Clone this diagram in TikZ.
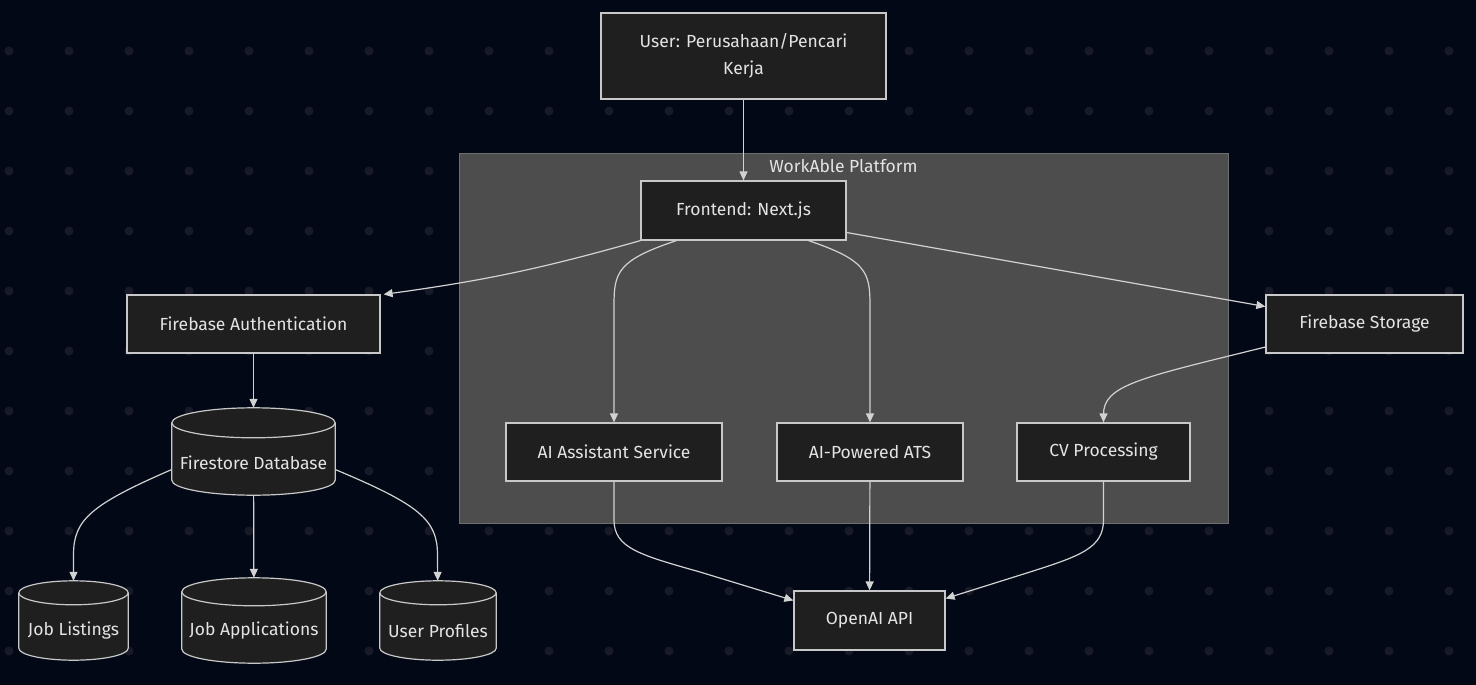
\documentclass[tikz,border=0pt]{standalone}
\usepackage{fontspec}
\setmainfont{Fira Sans}
\usetikzlibrary{arrows.meta,calc}
\definecolor{bgc}{RGB}{3,8,22}
\definecolor{dotc}{RGB}{24,27,39}
\definecolor{clfill}{RGB}{77,77,77}
\definecolor{clline}{RGB}{110,110,110}
\definecolor{nfill}{RGB}{31,31,31}
\definecolor{nline}{RGB}{200,200,200}
\definecolor{txt}{RGB}{228,228,228}
\definecolor{edgec}{RGB}{210,210,210}
\tikzset{
  box/.style={draw=nline, fill=nfill, line width=1.2pt, text=txt, font=\fontsize{17.5}{27}\selectfont, align=center, inner sep=0pt},
  cylnode/.style={draw=none, inner sep=0pt},
  cyltext/.style={text=txt, font=\fontsize{17.5}{27}\selectfont},
  arr/.style={draw=edgec, line width=1.2pt, -{Triangle[length=9pt,width=8pt]}},
  cylline/.style={draw=nline, fill=nfill, line width=1.2pt}
}
\newcommand\drawcyl[2]{%
  \path[cylline] let \p1=(#1.north west), \p2=(#1.south east), \n1={(\x2-\x1)/2} in
    (\x1,\y1-#2) -- (\x1,\y2+#2) arc[start angle=180,end angle=360,x radius=\n1,y radius=#2]
    -- (\x2,\y1-#2) arc[start angle=0,end angle=180,x radius=\n1,y radius=#2] -- cycle;
  \draw[draw=nline, line width=1.2pt] let \p1=(#1.north west), \p2=(#1.south east), \n1={(\x2-\x1)/2} in
    (\x1,\y1-#2) arc[start angle=180,end angle=360,x radius=\n1,y radius=#2];
}
\begin{document}
\begin{tikzpicture}[x=1pt,y=-1pt]
\fill[bgc] (0,0) rectangle (1476,685);
\useasboundingbox (0,0) rectangle (1476,685);
\foreach \i in {9,69,...,1469} {
  \foreach \j in {51,111,...,651} {
    \fill[dotc] (\i,\j) circle[radius=4.5pt];
  }
}
% cluster
\node[draw=clline, fill=clfill, line width=0.8pt, minimum width=769pt, minimum height=370pt, inner sep=0pt] (cl) at (843.5,338) {};
\node[text=txt, font=\fontsize{17.5}{20}\selectfont, anchor=center] (cltitle) at (843.5,166) {WorkAble Platform};
% nodes
\node[box, minimum width=285pt, minimum height=86pt] (user) at (743.5,56) {User: Perusahaan/Pencari\\Kerja};
\node[box, minimum width=205pt, minimum height=59pt] (fe) at (743.5,210.5) {Frontend: Next.js};
\node[box, minimum width=253pt, minimum height=58pt] (auth) at (253.5,324) {Firebase Authentication};
\node[box, minimum width=197pt, minimum height=58pt] (fs) at (1364.5,324) {Firebase Storage};
\node[box, minimum width=216pt, minimum height=58pt] (ai) at (614,452) {AI Assistant Service};
\node[box, minimum width=186pt, minimum height=58pt] (ats) at (870,452) {AI-Powered ATS};
\node[box, minimum width=173pt, minimum height=58pt] (cv) at (1103.5,452) {CV Processing};
\node[box, minimum width=151pt, minimum height=59pt] (oa) at (869.5,620.5) {OpenAI API};
% cylinders (anchor boxes)
\node[cylnode, minimum width=163pt, minimum height=87pt] (db) at (253.5,451.5) {};
\node[cylnode, minimum width=109pt, minimum height=79pt] (jl) at (73.5,620.5) {};
\node[cylnode, minimum width=144pt, minimum height=85pt] (ja) at (254,620.5) {};
\node[cylnode, minimum width=116pt, minimum height=79pt] (up) at (438,620.5) {};
% edges
\draw[arr] (user) -- (fe);
\draw[arr] (fe.south west) to[bend left=4] ([xshift=3pt]auth.north east);
\draw[arr] ([xshift=-67pt]fe.south) .. controls (618,260) and (614,272) .. (614,305) -- (ai);
\draw[arr] ([xshift=65pt]fe.south) .. controls (866,260) and (870,272) .. (870,305) -- (ats);
\draw[arr] ([yshift=-22pt]fe.east) -- (fs);
\draw[arr] ([yshift=-23pt]fs.west) .. controls (1140,378) and (1103,385) .. (1103.5,415) -- (cv);
\draw[arr] (auth) -- (db);
\draw[arr] (db) -- (ja);
\draw[arr] ([yshift=-18pt]db.west) .. controls (90,505) and (73.5,520) .. (73.5,555) -- (jl);
\draw[arr] ([yshift=-18pt]db.east) .. controls (420,505) and (437.5,520) .. (437.5,555) -- (up);
\draw[arr] (ai) -- (614,520) .. controls (614,548) and (640,555) .. (700,572) -- ([yshift=20pt]oa.west);
\draw[arr] (ats) -- (oa);
\draw[arr] (cv) -- (1103.5,520) .. controls (1103.5,548) and (1080,556) .. (1030,572) -- ([yshift=22pt]oa.east);
% cylinder bodies and texts
\drawcyl{db}{15pt}
\drawcyl{jl}{12pt}
\drawcyl{ja}{14pt}
\drawcyl{up}{12pt}
\node[cyltext] (dbt) at ([yshift=-11pt]db.center) {Firestore Database};
\node[cyltext] (jlt) at ([yshift=-10.5pt]jl.center) {Job Listings};
\node[cyltext] (jat) at ([yshift=-10.5pt]ja.center) {Job Applications};
\node[cyltext] (upt) at ([yshift=-10.5pt]up.center) {User Profiles};
\end{tikzpicture}
\end{document}
